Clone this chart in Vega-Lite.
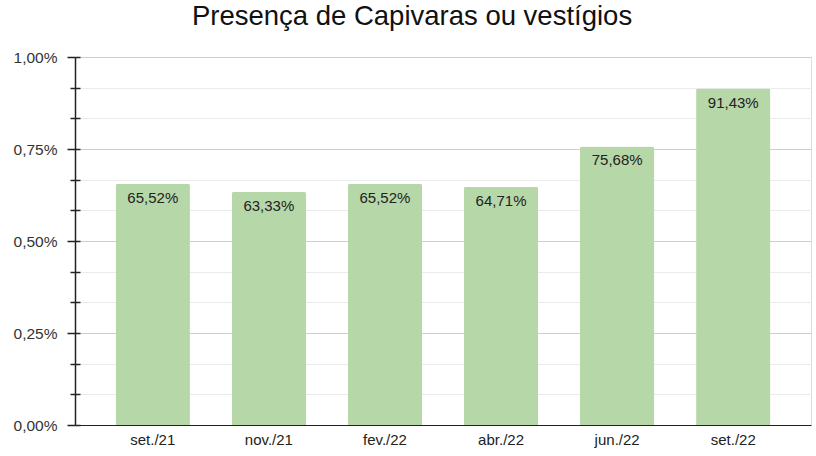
{
  "$schema": "https://vega.github.io/schema/vega-lite/v6.json",
  "width": 736,
  "height": 368,
  "autosize": "none",
  "padding": {"left": 75, "top": 57, "right": 5, "bottom": 31},
  "background": "white",
  "title": {
    "text": "Presença de Capivaras ou vestígios",
    "font": "Liberation Sans",
    "fontSize": 27.5,
    "fontWeight": "normal",
    "color": "#111",
    "anchor": "middle",
    "frame": "bounds",
    "offset": 20
  },
  "data": {
    "values": [
      {"periodo": "set./21", "presenca": 0.6552},
      {"periodo": "nov./21", "presenca": 0.6333},
      {"periodo": "fev./22", "presenca": 0.6552},
      {"periodo": "abr./22", "presenca": 0.6471},
      {"periodo": "jun./22", "presenca": 0.7568},
      {"periodo": "set./22", "presenca": 0.9143}
    ]
  },
  "transform": [
    {"calculate": "replace(format(datum.presenca * 100, '.2f'), '.', ',') + '%'", "as": "rotulo"}
  ],
  "encoding": {
    "x": {
      "field": "periodo",
      "type": "nominal",
      "sort": null,
      "scale": {"paddingInner": 0.36, "paddingOuter": 0.35},
      "axis": {
        "title": null,
        "labelAngle": 0,
        "labelFont": "Liberation Sans",
        "labelFontSize": 15,
        "labelColor": "#222",
        "labelPadding": 7,
        "ticks": false,
        "domainColor": "#222",
        "grid": false
      }
    }
  },
  "layer": [
    {
      "mark": {"type": "bar", "color": "#b6d7a8", "cornerRadiusTopLeft": 2, "cornerRadiusTopRight": 2},
      "encoding": {
        "y": {
          "field": "presenca",
          "type": "quantitative",
          "scale": {"domain": [0, 1]},
          "axis": {
            "orient": "left",
            "title": null,
            "values": [0, 0.25, 0.5, 0.75, 1],
            "labelExpr": "replace(format(datum.value, '.2f'), '.', ',') + '%'",
            "labelFont": "Liberation Sans",
            "labelFontSize": 15.5,
            "labelColor": "#333",
            "labelPadding": 10,
            "tickSize": 8,
            "tickColor": "#222",
            "tickWidth": 1.5,
            "domainColor": "#222",
            "domainWidth": 1.5,
            "grid": false
          }
        }
      }
    },
    {
      "mark": {"type": "bar", "opacity": 0},
      "encoding": {
        "y": {
          "field": "presenca",
          "type": "quantitative",
          "scale": {"domain": [0, 1]},
          "axis": {
            "orient": "left",
            "title": null,
            "values": [0.0833333, 0.1666667, 0.3333333, 0.4166667, 0.5833333, 0.6666667, 0.8333333, 0.9166667],
            "labels": false,
            "domain": false,
            "tickSize": 5,
            "tickColor": "#222",
            "tickWidth": 1.5,
            "grid": false
          }
        }
      }
    },
    {
      "mark": {"type": "text", "baseline": "top", "dy": 7, "font": "Liberation Sans", "fontSize": 15, "color": "#222"},
      "encoding": {
        "text": {"field": "rotulo", "type": "nominal"},
        "y": {
          "field": "presenca",
          "type": "quantitative",
          "scale": {"domain": [0, 1]},
          "axis": {
            "orient": "left",
            "title": null,
            "values": [0, 0.0833333, 0.1666667, 0.25, 0.3333333, 0.4166667, 0.5, 0.5833333, 0.6666667, 0.75, 0.8333333, 0.9166667, 1],
            "labels": false,
            "domain": false,
            "tickSize": -5,
            "tickColor": "#222",
            "tickWidth": 1.5,
            "grid": true,
            "gridColor": {
              "condition": {"test": "datum.value == 0.25 || datum.value == 0.5 || datum.value == 0.75 || datum.value == 1", "value": "#cfcfcf"},
              "value": "#ebebeb"
            }
          }
        }
      }
    }
  ],
  "resolve": {"axis": {"y": "independent"}}
}
